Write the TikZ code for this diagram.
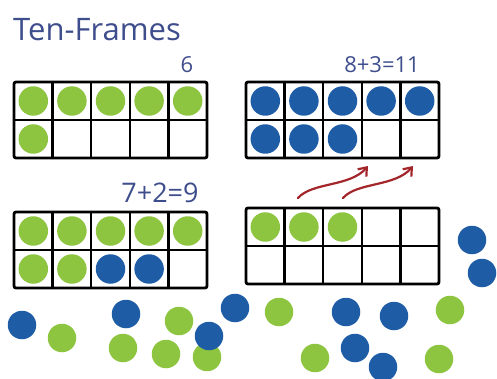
\documentclass[tikz,border=0pt]{standalone}
\usepackage{fontspec}
\setmainfont{Open Sans}
\usetikzlibrary{arrows.meta,positioning,calc}
\definecolor{chipgreen}{HTML}{8DC540}
\definecolor{chipblue}{HTML}{1F5CA6}
\definecolor{inkblue}{HTML}{3E4D8C}
\definecolor{arrowred}{HTML}{A3262B}

\begin{document}
\begin{tikzpicture}[x=1pt,y=-1pt,node distance=39pt,
    frame/.style={draw,line width=2.8pt,rounded corners=2pt,minimum width=193pt,minimum height=76pt,inner sep=0pt,outer sep=0pt},
    cellline/.style={line width=2.4pt},
    gchip/.style={circle,fill=chipgreen,minimum size=29.5pt,inner sep=0pt},
    bchip/.style={circle,fill=chipblue,minimum size=29.5pt,inner sep=0pt},
    sumtext/.style={text=inkblue,anchor=base,inner sep=0pt,font=\fontsize{22}{22}\selectfont}]
  \useasboundingbox (0,0) rectangle (497,379);
  \node[text=inkblue,anchor=base west,inner sep=0pt,font=\fontsize{31}{31}\selectfont] (title) at (13,41) {Ten-Frames};

  % the four frames
  \node[frame] (six) at (110.5,120) {};
  \node[frame,right=of six] (eleven) {};
  \node[frame,below=54pt of six] (nine) {};
  \node[frame,right=of nine,yshift=4pt] (three) {};
  \foreach \f in {six,eleven,nine,three} {
    \draw[cellline] (\f.west) -- (\f.east);
    \foreach \k in {1,...,4}
      \draw[cellline] ($(\f.north west)!\k/5!(\f.north east)$) -- ($(\f.south west)!\k/5!(\f.south east)$);
  }

  % counters in the frames
  \foreach \c in {1,...,5} \node[gchip] (six-a\c) at ($(six.north west)+({(\c-0.5)*38.6},19)$) {};
  \node[gchip] (six-b1) at ($(six.north west)+(19.3,57)$) {};
  \foreach \c in {1,...,5} \node[bchip] (eleven-a\c) at ($(eleven.north west)+({(\c-0.5)*38.6},19)$) {};
  \foreach \c in {1,2,3} \node[bchip] (eleven-b\c) at ($(eleven.north west)+({(\c-0.5)*38.6},57)$) {};
  \foreach \c in {1,...,5} \node[gchip] (nine-a\c) at ($(nine.north west)+({(\c-0.5)*38.6},19)$) {};
  \foreach \c in {1,2} \node[gchip] (nine-b\c) at ($(nine.north west)+({(\c-0.5)*38.6},57)$) {};
  \foreach \c in {3,4} \node[bchip] (nine-b\c) at ($(nine.north west)+({(\c-0.5)*38.6},57)$) {};
  \foreach \c in {1,2,3} \node[gchip] (three-a\c) at ($(three.north west)+({(\c-0.5)*38.6},19)$) {};

  % sums
  \node[sumtext] (six-sum) at (187,73) {6};
  \node[sumtext] (eleven-sum) at (382,73) {8+3=11};
  \node[sumtext,font=\fontsize{27}{27}\selectfont] (nine-sum) at (160,203) {7+2=9};

  % moving arrows
  \coordinate (lift1) at (298,198);
  \coordinate (drop1) at (368,166);
  \coordinate (lift2) at (343,198);
  \coordinate (drop2) at (413,166);
  \draw[arrowred,line width=2.2pt,line cap=round,-{Straight Barb[length=2.6mm,width=4mm]}] (lift1) .. controls (312,182) and (350,187) .. (drop1);
  \draw[arrowred,line width=2.2pt,line cap=round,-{Straight Barb[length=2.6mm,width=4mm]}] (lift2) .. controls (357,182) and (395,187) .. (drop2);

  % loose counters
  \foreach \x/\y [count=\n] in {62/338,123/348,179/321,166/354,207/357,279/312,450/310,315/358,439/359}
    \node[gchip,minimum size=28.5pt] (loose-g\n) at (\x,\y) {};
  \foreach \x/\y [count=\n] in {22/325,126/314,209/336,235/308,346/312,394/316,355/348,383/367,472/240,482/273}
    \node[bchip,minimum size=28.5pt] (loose-b\n) at (\x,\y) {};
\end{tikzpicture}
\end{document}
